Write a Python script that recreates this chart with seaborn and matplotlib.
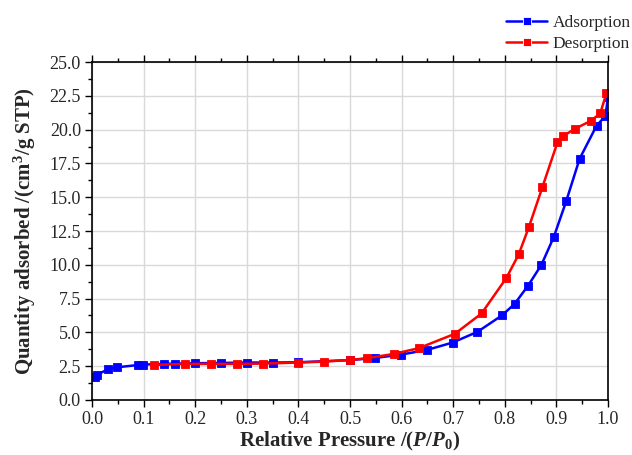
import numpy as np
import pandas as pd
import matplotlib
matplotlib.use("Agg")
import matplotlib.pyplot as plt
import seaborn as sns
from matplotlib.ticker import MultipleLocator, FormatStrFormatter

ads_x = [0.005, 0.01, 0.031, 0.049, 0.09, 0.099, 0.14, 0.16, 0.20, 0.25, 0.30, 0.35, 0.40,
         0.50, 0.549, 0.599, 0.649, 0.699, 0.747, 0.795, 0.819, 0.845, 0.871, 0.895,
         0.919, 0.945, 0.978, 0.995, 1.0]
ads_y = [1.72, 1.88, 2.27, 2.42, 2.59, 2.62, 2.67, 2.69, 2.72, 2.74, 2.77, 2.77, 2.79,
         2.95, 3.11, 3.36, 3.70, 4.25, 5.04, 6.27, 7.11, 8.45, 10.0, 12.06,
         14.7, 17.84, 20.3, 21.0, 22.4]

des_x = [0.997, 0.985, 0.967, 0.937, 0.912, 0.902, 0.873, 0.847, 0.827, 0.803, 0.755,
         0.703, 0.633, 0.585, 0.533, 0.50, 0.45, 0.40, 0.331, 0.281, 0.231, 0.18, 0.12]
des_y = [22.7, 21.2, 20.65, 20.08, 19.5, 19.05, 15.76, 12.82, 10.77, 9.02, 6.40,
         4.89, 3.83, 3.41, 3.09, 2.96, 2.84, 2.77, 2.69, 2.67, 2.67, 2.67, 2.59]

series_names = ["Adsorption", "Desorption"]
series_colors = ["#0000ff", "#ff0000"]

df = pd.concat([
    pd.DataFrame({"x": ads_x, "y": ads_y, "series": series_names[0]}),
    pd.DataFrame({"x": des_x, "y": des_y, "series": series_names[1]}),
], ignore_index=True)

sns.set_style("white")
plt.rcParams["font.family"] = ["Liberation Serif", "DejaVu Serif"]
plt.rcParams["mathtext.fontset"] = "custom"
plt.rcParams["mathtext.rm"] = "Liberation Serif"
plt.rcParams["mathtext.it"] = "Liberation Serif:italic"
plt.rcParams["mathtext.bf"] = "Liberation Serif:bold"
plt.rcParams["mathtext.bfit"] = "Liberation Serif:bold:italic"

fig = plt.figure(figsize=(6.32, 4.55), dpi=100)
ax = fig.add_axes([0.1456, 0.1209, 0.8164, 0.7428])

sns.lineplot(data=df, x="x", y="y", hue="series", sort=False, estimator=None,
             palette=dict(zip(series_names, series_colors)), marker="s",
             markersize=5.5, markeredgewidth=0.6, linewidth=1.8, ax=ax)
for ln, c in zip(ax.lines, series_colors):
    ln.set_markeredgecolor(c)

ax.set_xlim(0, 1.0)
ax.set_ylim(0, 25)
ax.xaxis.set_major_locator(MultipleLocator(0.1))
ax.xaxis.set_minor_locator(MultipleLocator(0.05))
ax.yaxis.set_major_locator(MultipleLocator(2.5))
ax.yaxis.set_minor_locator(MultipleLocator(1.25))
ax.xaxis.set_major_formatter(FormatStrFormatter("%.1f"))
ax.yaxis.set_major_formatter(FormatStrFormatter("%.1f"))
ax.grid(True, which="major", color="#d9d9d9", linewidth=1)
ax.set_axisbelow(True)
ax.tick_params(axis="both", which="major", direction="out", length=5, width=1,
               labelsize=13, top=True, bottom=True, left=True, right=False,
               color="black", pad=3)
ax.tick_params(axis="both", which="minor", direction="out", length=3, width=1,
               top=True, bottom=True, left=True, right=False, color="black")
for s in ax.spines.values():
    s.set_color("black")
    s.set_linewidth(1.2)

ax.set_xlabel(r"Relative Pressure /($\mathbfit{P}$/$\mathbfit{P}_\mathbf{0}$)",
              fontsize=15, fontweight="bold", labelpad=1)
ax.set_ylabel(r"Quantity adsorbed /(cm$^\mathbf{3}$/g STP)",
              fontsize=15, fontweight="bold", labelpad=8)

handles, labels = ax.get_legend_handles_labels()
ax.get_legend().remove()
leg = fig.legend(handles=handles, labels=labels,
                 loc="upper right", bbox_to_anchor=(0.998, 0.968), frameon=False,
                 fontsize=12.5, handlelength=2.4, borderaxespad=0, borderpad=0,
                 labelspacing=0.3, handletextpad=0.3)
for h in leg.legend_handles:
    h.set_markersize(5.5)

fig.savefig("out.png", dpi=100)
